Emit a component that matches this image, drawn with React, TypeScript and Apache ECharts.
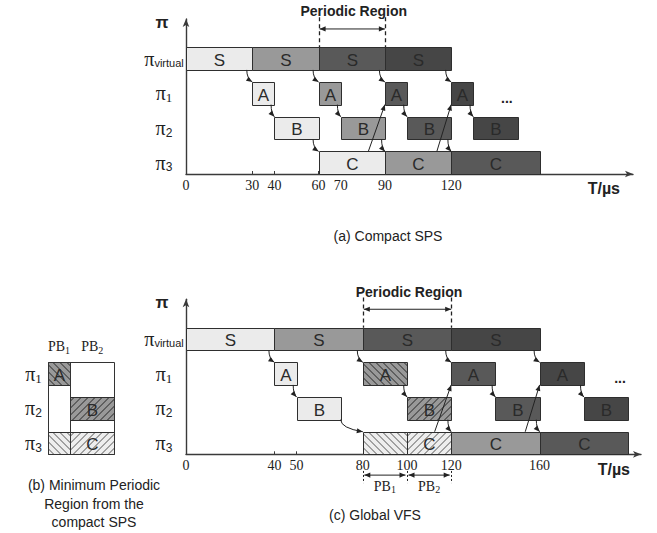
import React, { useEffect, useRef } from 'react';
import * as echarts from 'echarts';

// ---------------- data ----------------
// rows are counted from the bottom: 0 = π3, 1 = π2, 2 = π1, 3 = πvirtual
const mainRowLabels = ['π3', 'π2', 'π1', 'πvirtual'];
const regionRowLabels = ['π3', 'π2', 'π1'];

const compactTicks = [0, 30, 40, 60, 70, 90, 120];
const globalTicks = [0, 40, 50, 80, 100, 120, 160];

// [label, row, start(µs), end(µs), shade]
const compactTasks: [string, number, number, number, number][] = [
  ['S', 3, 0, 30, 0], ['S', 3, 30, 60, 1], ['S', 3, 60, 90, 2], ['S', 3, 90, 120, 3],
  ['A', 2, 30, 40, 0], ['A', 2, 60, 70, 1], ['A', 2, 90, 100, 2], ['A', 2, 120, 130, 3],
  ['B', 1, 40, 60, 0], ['B', 1, 70, 90, 1], ['B', 1, 100, 120, 2], ['B', 1, 130, 150, 3],
  ['C', 0, 60, 90, 0], ['C', 0, 90, 120, 1], ['C', 0, 120, 160, 2],
];
const globalTasks: [string, number, number, number, number][] = [
  ['S', 3, 0, 40, 0], ['S', 3, 40, 80, 1], ['S', 3, 80, 120, 2], ['S', 3, 120, 160, 3],
  ['A', 2, 40, 50, 0], ['A', 2, 80, 100, 4], ['A', 2, 120, 140, 2], ['A', 2, 160, 180, 3],
  ['B', 1, 50, 70, 0], ['B', 1, 100, 120, 5], ['B', 1, 140, 160, 2], ['B', 1, 180, 200, 3],
  ['', 0, 80, 100, 6], ['C', 0, 100, 120, 7], ['C', 0, 120, 160, 1], ['C', 0, 160, 200, 2],
];
const regionTasks: [string, number, number, number, number][] = [
  ['A', 2, 0, 10, 4], ['B', 1, 10, 30, 5], ['', 0, 0, 10, 6], ['C', 0, 10, 30, 7],
];
const regionColumns = [[0, 10], [10, 30]];
const regionHeaders = ['1', '2'];

// [x1, y1, x2, y2, kind]  kind 0 = curved, 1 = straight
const compactArrows = [
  [27.5, 3, 30, 2.65, 0], [57.5, 3, 60, 2.65, 0], [87.5, 3, 90, 2.65, 0], [117.5, 3, 120, 2.65, 0],
  [38.5, 2, 40, 1.65, 0], [68.5, 2, 70, 1.65, 0], [98.5, 2, 100, 1.65, 0], [128.5, 2, 130, 1.65, 0],
  [57.5, 1, 60, 0.65, 0], [88.5, 1, 90, 0.65, 0], [118.5, 1, 120, 0.65, 0],
  [82.5, 0.65, 90, 2, 1], [113.5, 0.65, 120, 2, 1],
];
const globalArrows = [
  [37.5, 3, 40, 2.65, 0], [77.5, 3, 80, 2.65, 0], [117.5, 3, 120, 2.65, 0], [157.5, 3, 160, 2.65, 0],
  [48.5, 2, 50, 1.65, 0], [98.5, 2, 100, 1.65, 0], [138.5, 2, 140, 1.65, 0], [178.5, 2, 180, 1.65, 0],
  [70, 1, 80, 0.65, 0], [118.5, 1, 120, 0.65, 0], [158.5, 1, 160, 0.65, 0],
  [112.5, 0.65, 120, 2, 1], [153.5, 0.65, 160, 2, 1],
];

const compactPeriod = [60, 90];
const globalPeriod = [80, 120];
const pbBounds = [80, 100, 120];
const pbNames = ['1', '2'];
const compactEllipsis = [145.2, 2.2];
const globalEllipsis = [196.4, 2.21];

// ---------------- layout / styles ----------------
const PX_US = 2.21;
const PX_ROW = 34.7;
const BOX_H = 0.65;
const GRID_H = 155;
const Y_MAX = GRID_H / PX_ROW;
const TOP_W = 447;
const BOT_W = 455;

const INK = '#222';
const AXIS = '#3a3a3a';
const SANS = '"Liberation Sans", Arial, sans-serif';
const SERIF = '"Liberation Serif", "Times New Roman", serif';

const SHADES: any[] = [
  { fill: '#ebebeb' },
  { fill: '#999999' },
  { fill: '#595959' },
  { fill: '#464646' },
  { fill: '#999999', hatch: 'b', line: '#262626' },
  { fill: '#999999', hatch: 'f', line: '#262626' },
  { fill: '#eeeeee', hatch: 'b', line: '#555555' },
  { fill: '#eeeeee', hatch: 'f', line: '#555555' },
];

function seg(x1: number, y1: number, x2: number, y2: number, stroke: string, lw = 1, dash?: number[]) {
  return { type: 'line', shape: { x1, y1, x2, y2 }, style: { stroke, lineWidth: lw, lineDash: dash, fill: 'none' } };
}

function hatchLines(x: number, y: number, w: number, h: number, dir: string, gap: number, color: string) {
  const out: any[] = [];
  if (dir === 'f') {
    for (let c = x + y + gap / 2; c < x + w + y + h; c += gap) {
      const xa = Math.max(x, c - (y + h));
      const xb = Math.min(x + w, c - y);
      if (xb - xa > 0.3) out.push(seg(xa, c - xa, xb, c - xb, color, 1));
    }
  } else {
    for (let c = y - (x + w) + gap / 2; c < y + h - x; c += gap) {
      const xa = Math.max(x, y - c);
      const xb = Math.min(x + w, y + h - c);
      if (xb - xa > 0.3) out.push(seg(xa, xa + c, xb, xb + c, color, 1));
    }
  }
  return out;
}

function arrowHead(tip: number[], from: number[], len = 6, half = 2.5) {
  const dx = tip[0] - from[0];
  const dy = tip[1] - from[1];
  const L = Math.hypot(dx, dy) || 1;
  const ux = dx / L, uy = dy / L;
  const bx = tip[0] - ux * len, by = tip[1] - uy * len;
  return {
    type: 'polygon',
    shape: { points: [[tip[0], tip[1]], [bx - uy * half, by + ux * half], [bx + uy * half, by - ux * half]] },
    style: { fill: INK, stroke: 'none' },
  };
}

function doubleArrow(p: number[], q: number[]) {
  return [
    seg(p[0], p[1], q[0], q[1], INK, 1),
    arrowHead(p, q, 6, 2.6),
    arrowHead(q, p, 6, 2.6),
  ];
}

function makeBoxRenderer(tasks: [string, number, number, number, number][]) {
  return (params: any, api: any) => {
    const [label, row, s, e, shade] = tasks[params.dataIndex];
    const a = api.coord([s, row + BOX_H]);
    const b = api.coord([e, row]);
    const x = Math.round(a[0]) + 0.5;
    const y = Math.round(a[1]) + 0.5;
    const w = Math.round(b[0]) - Math.round(a[0]);
    const h = Math.round(b[1]) - Math.round(a[1]);
    const sh = SHADES[shade];
    const children: any[] = [
      { type: 'rect', shape: { x, y, width: w, height: h }, style: { fill: sh.fill, stroke: 'none' } },
    ];
    if (sh.hatch) children.push(...hatchLines(x, y, w, h, sh.hatch, 7, sh.line));
    children.push({ type: 'rect', shape: { x, y, width: w, height: h }, style: { fill: 'none', stroke: '#2e2e2e', lineWidth: 1 } });
    if (label) {
      children.push({
        type: 'text',
        style: { text: label, x: x + w / 2, y: y + h / 2 + 1, align: 'center', verticalAlign: 'middle', font: `17px ${SANS}`, fill: '#2a2a2a' },
      });
    }
    return { type: 'group', children };
  };
}

function makeArrowRenderer(arrows: number[][]) {
  return (params: any, api: any) => {
    const [x1, y1, x2, y2, kind] = arrows[params.dataIndex];
    const p = api.coord([x1, y1]);
    const q = api.coord([x2, y2]);
    const children: any[] = [];
    let from = p;
    if (kind === 1) {
      children.push(seg(p[0], p[1], q[0], q[1], INK, 1));
    } else {
      const c = [p[0], p[1] + (q[1] - p[1]) * 0.7];
      children.push({
        type: 'bezierCurve',
        shape: { x1: p[0], y1: p[1], x2: q[0], y2: q[1], cpx1: c[0], cpy1: c[1] },
        style: { stroke: INK, lineWidth: 1, fill: 'none' },
      });
      from = c;
    }
    children.push(arrowHead(q, from, 6, 2.5));
    return { type: 'group', children };
  };
}

function makePeriodRenderer(period: number[]) {
  return (params: any, api: any) => {
    const [a, b] = period;
    const top = 4.52, bottom = 3 + BOX_H, mid = 4.18, lab = 4.69;
    const children: any[] = [];
    [a, b].forEach((v) => {
      const p = api.coord([v, top]);
      const q = api.coord([v, bottom]);
      children.push(seg(Math.round(p[0]) + 0.5, p[1], Math.round(q[0]) + 0.5, q[1], INK, 1.3, [4, 3]));
    });
    const pa = api.coord([a, mid]);
    const pb = api.coord([b, mid]);
    children.push(...doubleArrow([pa[0] + 1, pa[1]], [pb[0], pb[1]]));
    const t = api.coord([(a + b) / 2, lab]);
    children.push({
      type: 'text',
      style: { text: 'Periodic Region', x: t[0] + 2, y: t[1], align: 'center', verticalAlign: 'middle', font: `bold 14px ${SANS}`, fill: INK },
    });
    return { type: 'group', children };
  };
}

function makePbRenderer(bounds: number[], names: string[]) {
  return (params: any, api: any) => {
    const yTop = -0.48, yBot = -0.83, yArr = -0.6, yLab = -0.92;
    const children: any[] = [];
    bounds.forEach((v) => {
      const p = api.coord([v, yTop]);
      const q = api.coord([v, yBot]);
      children.push(seg(Math.round(p[0]) + 0.5, p[1], Math.round(q[0]) + 0.5, q[1], INK, 1, [2, 2]));
    });
    for (let i = 0; i < bounds.length - 1; i++) {
      const p = api.coord([bounds[i], yArr]);
      const q = api.coord([bounds[i + 1], yArr]);
      children.push(...doubleArrow([p[0] + 1.5, p[1]], [q[0] - 1.5, q[1]]));
      const c = api.coord([(bounds[i] + bounds[i + 1]) / 2, yLab]);
      children.push({
        type: 'text',
        style: {
          text: `{a|PB}{b|${names[i]}}`, x: c[0], y: c[1], align: 'center', verticalAlign: 'middle',
          rich: {
            a: { fontSize: 14, fontFamily: SERIF, fill: INK },
            b: { fontSize: 10, fontFamily: SERIF, fill: INK, padding: [7, 0, 0, 0] },
          },
        },
      });
    }
    return { type: 'group', children };
  };
}

function makeEllipsisRenderer(pos: number[]) {
  return (params: any, api: any) => {
    const p = api.coord(pos);
    return { type: 'text', style: { text: '...', x: p[0], y: p[1], align: 'center', verticalAlign: 'middle', font: `bold 14px ${SANS}`, fill: INK } };
  };
}

function makeRegionFrameRenderer(cols: number[][], headers: string[]) {
  return (params: any, api: any) => {
    const children: any[] = [];
    cols.forEach(([a, b], i) => {
      const p = api.coord([a, 2 + BOX_H]);
      const q = api.coord([b, 0]);
      const x = Math.round(p[0]) + 0.5, y = Math.round(p[1]) + 0.5;
      children.push({
        type: 'rect',
        shape: { x, y, width: Math.round(q[0]) - Math.round(p[0]), height: Math.round(q[1]) - Math.round(p[1]) },
        style: { fill: 'none', stroke: '#333', lineWidth: 1 },
      });
      const h = api.coord([(a + b) / 2, 3.1]);
      children.push({
        type: 'text',
        style: {
          text: `{a|PB}{b|${headers[i]}}`, x: h[0], y: h[1], align: 'center', verticalAlign: 'middle',
          rich: {
            a: { fontSize: 14, fontFamily: SERIF, fill: INK },
            b: { fontSize: 10, fontFamily: SERIF, fill: INK, padding: [7, 0, 0, 0] },
          },
        },
      });
    });
    return { type: 'group', children };
  };
}

function richRowLabel(label: string) {
  const sub = label.slice(1);
  if (sub === 'virtual') return `{p|π}{v|virtual}`;
  if (sub === '1') return `{p|π}{n|1}`;
  return `{p|π}{m|${sub}}`;
}

const rowRich = {
  p: { fontFamily: SERIF, fontSize: 20, color: INK },
  v: { fontFamily: SANS, fontSize: 11, color: INK, padding: [9, 0, 0, 0] },
  n: { fontFamily: SERIF, fontSize: 13, color: INK, padding: [9, 0, 0, 0] },
  m: { fontFamily: SANS, fontSize: 12, color: INK, padding: [9, 0, 0, 0] },
};

function xAxisCfg(grid: number, max: number, ticks: number[] | null) {
  if (!ticks) {
    return { type: 'value', gridIndex: grid, min: 0, max, show: false };
  }
  return {
    type: 'value', gridIndex: grid, min: 0, max,
    splitLine: { show: false },
    axisLine: { show: true, symbol: ['none', 'arrow'], symbolSize: [5, 8], lineStyle: { color: AXIS, width: 1.4 } },
    axisTick: { show: true, inside: true, length: 3, customValues: ticks, lineStyle: { color: AXIS, width: 1 } },
    axisLabel: { show: true, customValues: ticks, margin: 4, fontFamily: SERIF, fontSize: 14, color: INK },
  };
}

function yAxisCfg(grid: number, labels: string[], showLine: boolean, margin: number) {
  const vals = labels.map((_, i) => i + BOX_H / 2);
  return {
    type: 'value', gridIndex: grid, min: 0, max: Y_MAX,
    splitLine: { show: false },
    axisLine: { show: showLine, symbol: ['none', 'arrow'], symbolSize: [5, 8], lineStyle: { color: AXIS, width: 1.4 } },
    axisTick: { show: false },
    axisLabel: {
      show: true, customValues: vals, margin, align: 'center',
      formatter: (v: number) => {
        const i = Math.round(v - BOX_H / 2);
        return labels[i] ? richRowLabel(labels[i]) : '';
      },
      rich: rowRich,
    },
  };
}

function customSeries(xi: number, yi: number, data: any[], renderItem: any, z = 2) {
  return {
    type: 'custom', coordinateSystem: 'cartesian2d', xAxisIndex: xi, yAxisIndex: yi,
    data, renderItem, clip: false, silent: true, z,
  };
}

function buildOption(): any {
  const taskData = (t: [string, number, number, number, number][]) => t.map((r) => [r[2], r[3], r[1]]);
  const arrowData = (a: number[][]) => a.map((r) => [r[0], r[1]]);
  return {
    animation: false,
    backgroundColor: '#ffffff',
    grid: [
      { left: 186, top: 19, width: TOP_W, height: GRID_H, outerBoundsMode: 'none', containLabel: false },
      { left: 186, top: 299.3, width: BOT_W, height: GRID_H, outerBoundsMode: 'none', containLabel: false },
      { left: 48, top: 299.3, width: 30 * PX_US, height: GRID_H, outerBoundsMode: 'none', containLabel: false },
    ],
    xAxis: [
      xAxisCfg(0, TOP_W / PX_US, compactTicks),
      xAxisCfg(1, BOT_W / PX_US, globalTicks),
      xAxisCfg(2, 30, null),
    ],
    yAxis: [
      yAxisCfg(0, mainRowLabels, true, 22),
      yAxisCfg(1, mainRowLabels, true, 22),
      yAxisCfg(2, regionRowLabels, false, 14.5),
    ],
    series: [
      customSeries(0, 0, taskData(compactTasks), makeBoxRenderer(compactTasks), 2),
      customSeries(0, 0, arrowData(compactArrows), makeArrowRenderer(compactArrows), 3),
      customSeries(0, 0, [compactPeriod], makePeriodRenderer(compactPeriod), 3),
      customSeries(0, 0, [compactEllipsis], makeEllipsisRenderer(compactEllipsis), 3),
      customSeries(1, 1, taskData(globalTasks), makeBoxRenderer(globalTasks), 2),
      customSeries(1, 1, arrowData(globalArrows), makeArrowRenderer(globalArrows), 3),
      customSeries(1, 1, [globalPeriod], makePeriodRenderer(globalPeriod), 3),
      customSeries(1, 1, [pbBounds.slice(0, 2)], makePbRenderer(pbBounds, pbNames), 3),
      customSeries(1, 1, [globalEllipsis], makeEllipsisRenderer(globalEllipsis), 3),
      customSeries(2, 2, taskData(regionTasks), makeBoxRenderer(regionTasks), 2),
      customSeries(2, 2, [[0, 0]], makeRegionFrameRenderer(regionColumns, regionHeaders), 3),
    ],
    graphic: [
      { type: 'text', x: 162, y: 22.5, silent: true, style: { text: 'π', font: `bold 17px ${SANS}`, fill: INK, align: 'center', verticalAlign: 'middle' } },
      { type: 'text', x: 162, y: 302.5, silent: true, style: { text: 'π', font: `bold 17px ${SANS}`, fill: INK, align: 'center', verticalAlign: 'middle' } },
      { type: 'text', x: 620, y: 188, silent: true, style: { text: 'T/µs', font: `bold 16px ${SANS}`, fill: INK, align: 'right', verticalAlign: 'middle' } },
      { type: 'text', x: 630, y: 469, silent: true, style: { text: 'T/µs', font: `bold 16px ${SANS}`, fill: INK, align: 'right', verticalAlign: 'middle' } },
      { type: 'text', x: 388, y: 236, silent: true, style: { text: '(a) Compact SPS', font: `14px ${SANS}`, fill: INK, align: 'center', verticalAlign: 'middle' } },
      { type: 'text', x: 375, y: 515, silent: true, style: { text: '(c) Global VFS', font: `14px ${SANS}`, fill: INK, align: 'center', verticalAlign: 'middle' } },
      {
        type: 'text', x: 94, y: 476, silent: true,
        style: { text: '(b) Minimum Periodic\nRegion from the\ncompact SPS', font: `14px ${SANS}`, lineHeight: 18.4, fill: INK, align: 'center', verticalAlign: 'top' },
      },
    ],
  };
}

export default function App() {
  const ref = useRef<HTMLDivElement>(null);
  useEffect(() => {
    if (!ref.current) return;
    const chart = echarts.init(ref.current, null, { renderer: 'svg' });
    chart.setOption(buildOption());
    return () => chart.dispose();
  }, []);
  return (
    <div
      ref={ref}
      style={{ position: 'absolute', left: 0, top: 0, width: 657, height: 533, background: '#fff' }}
    />
  );
}
